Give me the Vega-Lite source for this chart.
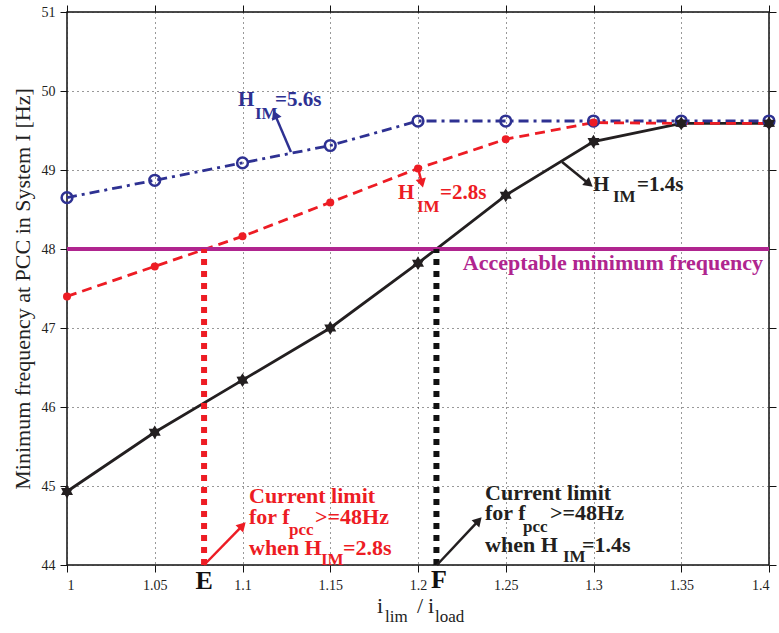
{
  "$schema": "https://vega.github.io/schema/vega-lite/v6.json",
  "width": 702,
  "height": 553,
  "autosize": {"type": "none"},
  "padding": {"left": 67, "top": 12, "right": 10, "bottom": 68},
  "background": "white",
  "config": {
    "view": {"stroke": "#111", "strokeWidth": 1.5},
    "font": "Liberation Serif",
    "axis": {
      "domain": false,
      "tickColor": "#111",
      "tickSize": 7,
      "tickWidth": 1,
      "labelFont": "Liberation Serif",
      "labelFontSize": 14,
      "labelColor": "#222",
      "gridColor": "#333",
      "gridDash": [1, 4],
      "gridWidth": 1,
      "gridOpacity": 1,
      "titleFont": "Liberation Serif",
      "titleFontWeight": "normal",
      "titleColor": "#222"
    }
  },
  "datasets": {
    "series": [
      {"h": "5.6", "x": 1.0, "y": 48.65},
      {"h": "5.6", "x": 1.05, "y": 48.87},
      {"h": "5.6", "x": 1.1, "y": 49.09},
      {"h": "5.6", "x": 1.15, "y": 49.31},
      {"h": "5.6", "x": 1.2, "y": 49.62},
      {"h": "5.6", "x": 1.25, "y": 49.62},
      {"h": "5.6", "x": 1.3, "y": 49.62},
      {"h": "5.6", "x": 1.35, "y": 49.62},
      {"h": "5.6", "x": 1.4, "y": 49.62},
      {"h": "2.8", "x": 1.0, "y": 47.40},
      {"h": "2.8", "x": 1.05, "y": 47.78},
      {"h": "2.8", "x": 1.1, "y": 48.16},
      {"h": "2.8", "x": 1.15, "y": 48.59},
      {"h": "2.8", "x": 1.2, "y": 49.02},
      {"h": "2.8", "x": 1.25, "y": 49.39},
      {"h": "2.8", "x": 1.3, "y": 49.60},
      {"h": "2.8", "x": 1.35, "y": 49.59},
      {"h": "2.8", "x": 1.4, "y": 49.59},
      {"h": "1.4", "x": 1.0, "y": 44.93},
      {"h": "1.4", "x": 1.05, "y": 45.68},
      {"h": "1.4", "x": 1.1, "y": 46.34},
      {"h": "1.4", "x": 1.15, "y": 47.00},
      {"h": "1.4", "x": 1.2, "y": 47.82},
      {"h": "1.4", "x": 1.25, "y": 48.68},
      {"h": "1.4", "x": 1.3, "y": 49.36},
      {"h": "1.4", "x": 1.35, "y": 49.59},
      {"h": "1.4", "x": 1.4, "y": 49.59}
    ],
    "arrows": [
      {"c": "blue", "x": 1.1276, "y": 49.228, "x2": 1.1185, "y2": 49.701},
      {"c": "red", "x": 1.2000, "y": 49.025, "x2": 1.2022, "y2": 48.834},
      {"c": "black", "x": 1.2821, "y": 49.101, "x2": 1.2975, "y2": 48.824},
      {"c": "red", "x": 1.0781, "y": 44.0, "x2": 1.1000, "y2": 44.499},
      {"c": "black", "x": 1.2108, "y": 44.0, "x2": 1.2345, "y2": 44.562}
    ],
    "texts": [
      {"g": "blueMain", "x": 1.0974, "y": 49.886, "text": "H"},
      {"g": "blueSub", "x": 1.1071, "y": 49.703, "text": "IM"},
      {"g": "blueMain", "x": 1.1185, "y": 49.886, "text": "=5.6s"},
      {"g": "redMain", "x": 1.1886, "y": 48.709, "text": "H"},
      {"g": "redSub", "x": 1.1994, "y": 48.532, "text": "IM"},
      {"g": "redMain", "x": 1.2125, "y": 48.709, "text": "=2.8s"},
      {"g": "blackMain", "x": 1.2997, "y": 48.810, "text": "H"},
      {"g": "blackSub", "x": 1.3111, "y": 48.658, "text": "IM"},
      {"g": "blackMain", "x": 1.3248, "y": 48.810, "text": "=1.4s"},
      {"g": "magenta", "x": 1.3966, "y": 47.823, "text": "Acceptable minimum frequency"},
      {"g": "redAnn", "x": 1.1037, "y": 44.873, "text": "Current limit"},
      {"g": "redAnn", "x": 1.1037, "y": 44.608, "text": "for f"},
      {"g": "redSub", "x": 1.1265, "y": 44.443, "text": "pcc"},
      {"g": "redAnn", "x": 1.1413, "y": 44.608, "text": ">=48Hz"},
      {"g": "redAnn", "x": 1.1037, "y": 44.215, "text": "when H"},
      {"g": "redSub", "x": 1.1447, "y": 44.063, "text": "IM"},
      {"g": "redAnn", "x": 1.1573, "y": 44.215, "text": "=2.8s"},
      {"g": "blackAnn", "x": 1.2382, "y": 44.911, "text": "Current limit"},
      {"g": "blackAnn", "x": 1.2382, "y": 44.658, "text": "for f"},
      {"g": "blackSub", "x": 1.2598, "y": 44.481, "text": "pcc"},
      {"g": "blackAnn", "x": 1.2752, "y": 44.658, "text": ">=48Hz"},
      {"g": "blackAnn", "x": 1.2382, "y": 44.253, "text": "when H"},
      {"g": "blackSub", "x": 1.2826, "y": 44.101, "text": "IM"},
      {"g": "blackAnn", "x": 1.2934, "y": 44.253, "text": "=1.4s"},
      {"g": "point", "x": 1.0781, "y": 43.797, "text": "E"},
      {"g": "point", "x": 1.2120, "y": 43.810, "text": "F"},
      {"g": "xMain", "x": 1.1766, "y": 43.481, "text": "i"},
      {"g": "xSub", "x": 1.1812, "y": 43.342, "text": "lim"},
      {"g": "xMain", "x": 1.1994, "y": 43.481, "text": "/"},
      {"g": "xMain", "x": 1.2057, "y": 43.481, "text": "i"},
      {"g": "xSub", "x": 1.2097, "y": 43.342, "text": "load"}
    ]
  },
  "encoding": {
    "x": {"field": "x", "type": "quantitative", "scale": {"domain": [1, 1.4], "nice": false, "zero": false}, "axis": null},
    "y": {"field": "y", "type": "quantitative", "scale": {"domain": [44, 51], "nice": false, "zero": false}, "axis": null}
  },
  "resolve": {"axis": {"x": "independent", "y": "independent"}},
  "layer": [
    {
      "data": {"name": "series"},
      "transform": [{"filter": "datum.h == '1.4'"}],
      "mark": {"type": "line", "color": "#231f20", "strokeWidth": 2.8},
      "encoding": {
        "x": {"field": "x", "type": "quantitative", "scale": {"domain": [1, 1.4], "nice": false, "zero": false},
          "axis": {"orient": "bottom", "values": [1, 1.05, 1.1, 1.15, 1.2, 1.25, 1.3, 1.35, 1.4], "format": "~g", "grid": true, "title": null, "labelPadding": 6}},
        "y": {"field": "y", "type": "quantitative", "scale": {"domain": [44, 51], "nice": false, "zero": false},
          "axis": {"orient": "left", "values": [44, 45, 46, 47, 48, 49, 50, 51], "format": "d", "grid": true, "labelPadding": 5,
            "title": "Minimum frequency at PCC in System I [Hz]", "titleFontSize": 22, "titleX": -45, "titleY": 276.5, "titleAngle": -90, "titleAlign": "center", "titleBaseline": "middle"}}
      }
    },
    {
      "data": {"name": "series"},
      "transform": [{"filter": "datum.h == '5.6'"}],
      "mark": {"type": "line", "color": "#2e3192", "strokeWidth": 2.8, "strokeDash": [10, 5, 3, 5]},
      "encoding": {
        "x": {"field": "x", "type": "quantitative", "scale": {"domain": [1, 1.4], "nice": false, "zero": false},
          "axis": {"orient": "top", "values": [1, 1.05, 1.1, 1.15, 1.2, 1.25, 1.3, 1.35, 1.4], "labels": false, "grid": false, "title": null}},
        "y": {"field": "y", "type": "quantitative", "scale": {"domain": [44, 51], "nice": false, "zero": false},
          "axis": {"orient": "right", "values": [44, 45, 46, 47, 48, 49, 50, 51], "labels": false, "grid": false, "title": null}}
      }
    },
    {
      "data": {"name": "series"},
      "transform": [{"filter": "datum.h == '2.8'"}],
      "mark": {"type": "line", "color": "#ed1c24", "strokeWidth": 2.8, "strokeDash": [10, 6]}
    },
    {
      "data": {"values": [{"x": 1, "x2": 1.4, "y": 48}]},
      "mark": {"type": "rule", "color": "#b0258f", "strokeWidth": 4},
      "encoding": {"x2": {"field": "x2"}}
    },
    {
      "data": {"values": [{"x": 1.0781, "y": 44, "y2": 48}]},
      "mark": {"type": "rule", "color": "#ed1c24", "strokeWidth": 6, "strokeDash": [6, 6], "strokeCap": "butt"},
      "encoding": {"y2": {"field": "y2"}}
    },
    {
      "data": {"values": [{"x": 1.2105, "y": 44, "y2": 48}]},
      "mark": {"type": "rule", "color": "#111", "strokeWidth": 6, "strokeDash": [6, 6], "strokeCap": "butt"},
      "encoding": {"y2": {"field": "y2"}}
    },
    {
      "data": {"name": "series"},
      "transform": [{"filter": "datum.h == '5.6'"}],
      "mark": {"type": "point", "shape": "circle", "filled": false, "color": "#2e3192", "strokeWidth": 2.5, "size": 115, "opacity": 1}
    },
    {
      "data": {"name": "series"},
      "transform": [{"filter": "datum.h == '2.8'"}],
      "mark": {"type": "point", "shape": "circle", "filled": true, "color": "#ed1c24", "size": 64, "opacity": 1}
    },
    {
      "data": {"name": "series"},
      "transform": [{"filter": "datum.h == '1.4'"}],
      "mark": {"type": "point", "shape": "M0,-1L0.3,-0.52L0.87,-0.5L0.6,0L0.87,0.5L0.3,0.52L0,1L-0.3,0.52L-0.87,0.5L-0.6,0L-0.87,-0.5L-0.3,-0.52Z", "filled": true, "color": "#231f20", "size": 190, "opacity": 1}
    },
    {
      "data": {"name": "arrows"},
      "transform": [{"filter": "datum.c == 'blue'"}],
      "mark": {"type": "rule", "color": "#2e3192", "strokeWidth": 2.5},
      "encoding": {"x2": {"field": "x2"}, "y2": {"field": "y2"}}
    },
    {
      "data": {"name": "arrows"},
      "transform": [{"filter": "datum.c == 'red'"}],
      "mark": {"type": "rule", "color": "#ed1c24", "strokeWidth": 2.5},
      "encoding": {"x2": {"field": "x2"}, "y2": {"field": "y2"}}
    },
    {
      "data": {"name": "arrows"},
      "transform": [{"filter": "datum.c == 'black'"}],
      "mark": {"type": "rule", "color": "#231f20", "strokeWidth": 2.5},
      "encoding": {"x2": {"field": "x2"}, "y2": {"field": "y2"}}
    },
    {
      "data": {"values": [{"x": 1.1185, "y": 49.701}]},
      "mark": {"type": "point", "shape": "triangle-up", "filled": true, "color": "#2e3192", "size": 110, "angle": 337, "opacity": 1}
    },
    {
      "data": {"values": [{"x": 1.2022, "y": 48.834}]},
      "mark": {"type": "point", "shape": "triangle-up", "filled": true, "color": "#ed1c24", "size": 110, "angle": 166, "opacity": 1}
    },
    {
      "data": {"values": [{"x": 1.2975, "y": 48.824}]},
      "mark": {"type": "point", "shape": "triangle-up", "filled": true, "color": "#231f20", "size": 110, "angle": 129, "opacity": 1}
    },
    {
      "data": {"values": [{"x": 1.1000, "y": 44.499}]},
      "mark": {"type": "point", "shape": "triangle-up", "filled": true, "color": "#ed1c24", "size": 110, "angle": 44, "opacity": 1}
    },
    {
      "data": {"values": [{"x": 1.2345, "y": 44.562}]},
      "mark": {"type": "point", "shape": "triangle-up", "filled": true, "color": "#231f20", "size": 110, "angle": 43, "opacity": 1}
    },
    {
      "data": {"name": "texts"},
      "transform": [{"filter": "datum.g == 'blueMain'"}],
      "mark": {"type": "text", "align": "left", "baseline": "middle", "font": "Liberation Serif", "fontWeight": "bold", "fontSize": 21, "color": "#2e3192"},
      "encoding": {"text": {"field": "text"}}
    },
    {
      "data": {"name": "texts"},
      "transform": [{"filter": "datum.g == 'blueSub'"}],
      "mark": {"type": "text", "align": "left", "baseline": "middle", "font": "Liberation Serif", "fontWeight": "bold", "fontSize": 17, "color": "#2e3192"},
      "encoding": {"text": {"field": "text"}}
    },
    {
      "data": {"name": "texts"},
      "transform": [{"filter": "datum.g == 'redMain'"}],
      "mark": {"type": "text", "align": "left", "baseline": "middle", "font": "Liberation Serif", "fontWeight": "bold", "fontSize": 21, "color": "#ed1c24"},
      "encoding": {"text": {"field": "text"}}
    },
    {
      "data": {"name": "texts"},
      "transform": [{"filter": "datum.g == 'redAnn'"}],
      "mark": {"type": "text", "align": "left", "baseline": "middle", "font": "Liberation Serif", "fontWeight": "bold", "fontSize": 22, "color": "#ed1c24"},
      "encoding": {"text": {"field": "text"}}
    },
    {
      "data": {"name": "texts"},
      "transform": [{"filter": "datum.g == 'redSub'"}],
      "mark": {"type": "text", "align": "left", "baseline": "middle", "font": "Liberation Serif", "fontWeight": "bold", "fontSize": 17, "color": "#ed1c24"},
      "encoding": {"text": {"field": "text"}}
    },
    {
      "data": {"name": "texts"},
      "transform": [{"filter": "datum.g == 'blackMain'"}],
      "mark": {"type": "text", "align": "left", "baseline": "middle", "font": "Liberation Serif", "fontWeight": "bold", "fontSize": 21, "color": "#231f20"},
      "encoding": {"text": {"field": "text"}}
    },
    {
      "data": {"name": "texts"},
      "transform": [{"filter": "datum.g == 'blackAnn'"}],
      "mark": {"type": "text", "align": "left", "baseline": "middle", "font": "Liberation Serif", "fontWeight": "bold", "fontSize": 22, "color": "#231f20"},
      "encoding": {"text": {"field": "text"}}
    },
    {
      "data": {"name": "texts"},
      "transform": [{"filter": "datum.g == 'blackSub'"}],
      "mark": {"type": "text", "align": "left", "baseline": "middle", "font": "Liberation Serif", "fontWeight": "bold", "fontSize": 17, "color": "#231f20"},
      "encoding": {"text": {"field": "text"}}
    },
    {
      "data": {"name": "texts"},
      "transform": [{"filter": "datum.g == 'magenta'"}],
      "mark": {"type": "text", "align": "right", "baseline": "middle", "font": "Liberation Serif", "fontWeight": "bold", "fontSize": 22, "color": "#b0258f"},
      "encoding": {"text": {"field": "text"}}
    },
    {
      "data": {"name": "texts"},
      "transform": [{"filter": "datum.g == 'point'"}],
      "mark": {"type": "text", "align": "center", "baseline": "middle", "font": "Liberation Serif", "fontWeight": "bold", "fontSize": 26, "color": "#111"},
      "encoding": {"text": {"field": "text"}}
    },
    {
      "data": {"name": "texts"},
      "transform": [{"filter": "datum.g == 'xMain'"}],
      "mark": {"type": "text", "align": "left", "baseline": "middle", "font": "Liberation Serif", "fontSize": 22, "color": "#222"},
      "encoding": {"text": {"field": "text"}}
    },
    {
      "data": {"name": "texts"},
      "transform": [{"filter": "datum.g == 'xSub'"}],
      "mark": {"type": "text", "align": "left", "baseline": "middle", "font": "Liberation Serif", "fontSize": 17, "color": "#222"},
      "encoding": {"text": {"field": "text"}}
    }
  ]
}
